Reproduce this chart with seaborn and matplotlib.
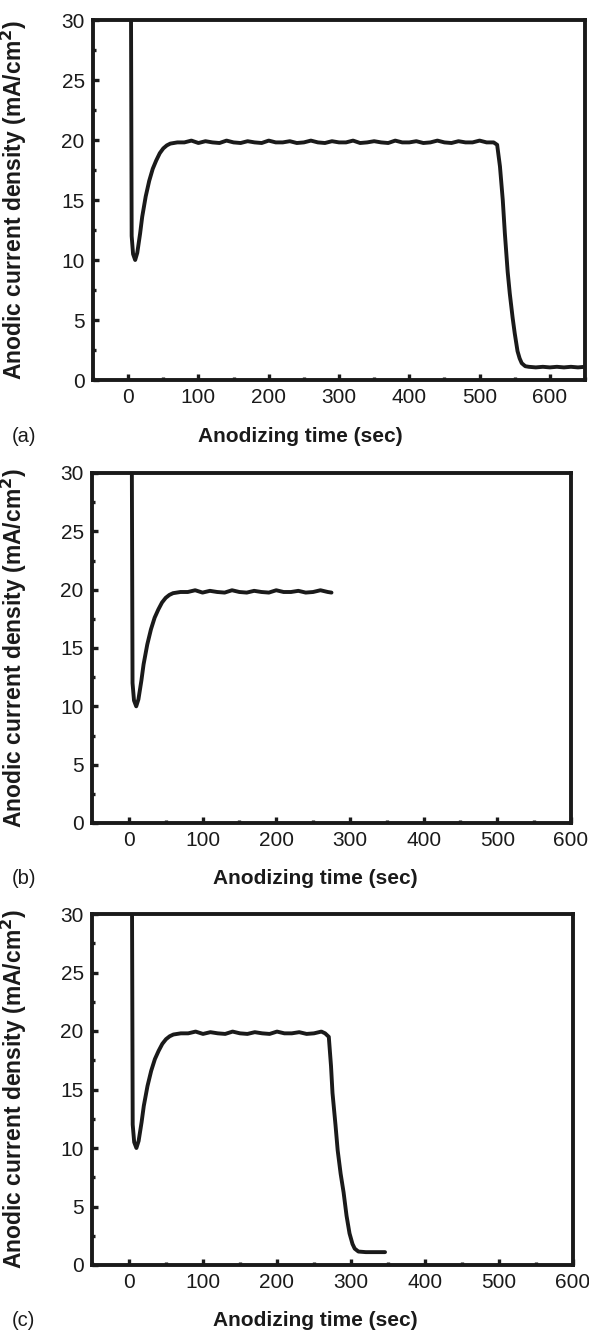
import numpy as np
import pandas as pd
import matplotlib
matplotlib.use('Agg')
import matplotlib.pyplot as plt
from matplotlib.ticker import MultipleLocator
import seaborn as sns

sns.set_theme(style='ticks')
plt.rcParams['font.family'] = ['Liberation Sans', 'DejaVu Sans']

# ── Data (time in s, current in mA/cm^2) ──
start_t = [4, 5, 7, 10, 13, 17, 20, 25, 30, 35, 40, 45, 50, 55, 60, 70]
start_j = [32.0, 12.0, 10.5, 10.0, 10.6, 12.2, 13.6, 15.3, 16.6, 17.6,
           18.3, 18.9, 19.3, 19.55, 19.7, 19.8]

# (a) plateau then drop, run to 650 s
plateau_a_t = [80, 90, 100, 110, 120, 130, 140, 150, 160, 170, 180, 190, 200,
               210, 220, 230, 240, 250, 260, 270, 280, 290, 300, 310, 320, 330,
               340, 350, 360, 370, 380, 390, 400, 410, 420, 430, 440, 450, 460,
               470, 480, 490, 500, 510, 520]
plateau_a_j = [19.8, 19.95, 19.75, 19.9, 19.8, 19.75, 19.95, 19.8, 19.75, 19.9,
               19.8, 19.75, 19.95, 19.8, 19.8, 19.9, 19.75, 19.8, 19.95, 19.8,
               19.75, 19.9, 19.8, 19.8, 19.95, 19.75, 19.8, 19.9, 19.8, 19.75,
               19.95, 19.8, 19.8, 19.9, 19.75, 19.8, 19.95, 19.8, 19.75, 19.9,
               19.8, 19.8, 19.95, 19.8, 19.8]
drop_a_t = [525, 529, 533, 536, 540, 543, 547, 550, 554, 557, 560, 565, 570,
            580, 590, 600, 610, 620, 630, 640, 650]
drop_a_j = [19.6, 17.8, 15.0, 12.2, 9.0, 7.2, 5.2, 3.9, 2.4, 1.8, 1.4, 1.15,
            1.1, 1.05, 1.1, 1.05, 1.1, 1.05, 1.1, 1.05, 1.1]

# (b) plateau only, stops at ~275 s
plateau_b_t = [80, 90, 100, 110, 120, 130, 140, 150, 160, 170, 180, 190, 200,
               210, 220, 230, 240, 250, 260, 270, 275]
plateau_b_j = [19.8, 19.95, 19.75, 19.9, 19.8, 19.75, 19.95, 19.8, 19.75, 19.9,
               19.8, 19.75, 19.95, 19.8, 19.8, 19.9, 19.75, 19.8, 19.95, 19.8,
               19.75]

# (c) plateau then drop at ~270 s, stops at ~346 s
plateau_c_t = [80, 90, 100, 110, 120, 130, 140, 150, 160, 170, 180, 190, 200,
               210, 220, 230, 240, 250, 260, 265]
plateau_c_j = [19.8, 19.95, 19.75, 19.9, 19.8, 19.75, 19.95, 19.8, 19.75, 19.9,
               19.8, 19.75, 19.95, 19.8, 19.8, 19.9, 19.75, 19.8, 19.95, 19.8]
drop_c_t = [270, 273, 275, 279, 282, 286, 290, 294, 298, 302, 305, 310, 320,
            330, 340, 346]
drop_c_j = [19.5, 17.0, 14.7, 12.0, 9.8, 7.8, 6.2, 4.2, 2.7, 1.8, 1.4, 1.15,
            1.1, 1.1, 1.1, 1.1]

panel_labels = ['(a)', '(b)', '(c)']
x_label = 'Anodizing time (sec)'
y_label = 'Anodic current density (mA/cm$^\\mathbf{2}$)'

panels = [
    (start_t + plateau_a_t + drop_a_t, start_j + plateau_a_j + drop_a_j, 650),
    (start_t + plateau_b_t, start_j + plateau_b_j, 600),
    (start_t + plateau_c_t + drop_c_t, start_j + plateau_c_j + drop_c_j, 600),
]

W, H = 589, 1331
fig = plt.figure(figsize=(W / 100, H / 100), dpi=100)
fig.patch.set_facecolor('white')

# axes boxes in pixels: left, right, top, bottom
boxes = [(93, 585, 20, 380), (92, 571, 473, 823), (92, 573, 914, 1265)]
xlab_x = [300, 315, 315]
ink = '#1a1a1a'

for (t, j, xmax), (l, r, top, bot), lab, xl in zip(panels, boxes, panel_labels, xlab_x):
    ax = fig.add_axes([l / W, 1 - bot / H, (r - l) / W, (bot - top) / H])
    df = pd.DataFrame({'t': t, 'j': j})
    sns.lineplot(data=df, x='t', y='j', ax=ax, sort=False, estimator=None,
                 color=ink, linewidth=2.8)
    ax.set_xlim(-50, xmax)
    ax.set_ylim(0, 30)
    ax.set_xticks([0, 100, 200, 300, 400, 500, 600])
    ax.set_yticks([0, 5, 10, 15, 20, 25, 30])
    ax.xaxis.set_minor_locator(MultipleLocator(50))
    ax.yaxis.set_minor_locator(MultipleLocator(2.5))
    ax.tick_params(which='major', direction='in', length=4, width=2.4,
                   labelsize=15, colors=ink, pad=6)
    ax.tick_params(which='minor', direction='in', length=2.5, width=2.4,
                   colors=ink)
    for s in ax.spines.values():
        s.set_linewidth(2.8)
        s.set_color(ink)
    ax.set_xlabel('')
    ax.set_ylabel(y_label, fontsize=16.5, fontweight='bold', color=ink)
    ax.yaxis.set_label_coords((29 - l) / (r - l), 0.5)
    ax.set_facecolor('white')

    fig.text(xl / W, 1 - (bot + 56) / H, x_label, ha='center', va='center',
             fontsize=15, fontweight='bold', color=ink)
    fig.text(12 / W, 1 - (bot + 56) / H, lab, ha='left', va='center',
             fontsize=14.5, color=ink)

fig.savefig('out.png', dpi=100, facecolor='white')
